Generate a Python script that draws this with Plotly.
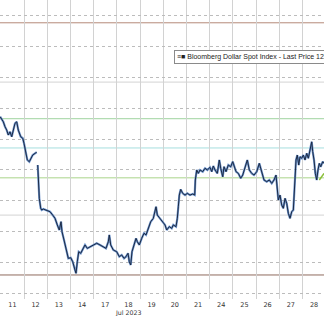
import plotly.graph_objects as go

# ---- data ----
# x = trading-day index (0 = Jul 11 open), fractional within each day
day_labels = ["11", "12", "13", "14", "17", "18", "19", "20", "21", "24", "25", "26", "27", "28"]

t = [-0.03, 0.108, 0.181, 0.254, 0.323, 0.397, 0.470, 0.539, 0.612, 0.685, 0.754, 0.858, 0.944,
     1.000, 1.043, 1.086, 1.142, 1.228, 1.289, 1.375, 1.474, 1.547, None,
     1.591, 1.659, 1.720, 1.763, 1.832, 1.978, 2.121, 2.237, 2.336, 2.435, 2.522, 2.595, 2.638,
     2.724, 2.810, 2.909, 3.013, 3.099, 3.198, 3.241, 3.297, 3.358, 3.444, 3.530, 3.629, 3.728,
     3.845, 3.987, 4.134, 4.276, 4.418, 4.534, 4.634, 4.677, 4.737, 4.849, 4.996, 5.108, 5.211,
     5.310, 5.397, 5.483, 5.539, 5.599, 5.655, 5.741, 5.828, 5.884, 5.970, 6.073, 6.172, 6.259,
     6.358, 6.461, 6.573, 6.647, 6.690, 6.746, 6.862, 6.978, 7.078, 7.151, 7.263, 7.366, 7.435,
     7.552, 7.608, 7.651, 7.694, 7.754, 7.841, 7.940, 8.039, 8.155, 8.272, 8.358, 8.384, 8.444,
     8.513, 8.586, 8.703, 8.802, 8.901, 9.017, 9.091, 9.159, 9.233, 9.332, 9.418, 9.478, 9.565,
     9.621, 9.707, 9.806, 9.909, 9.996, 10.052, 10.138, 10.237, 10.341, 10.427, 10.526, 10.625,
     10.711, 10.815, 10.914, 11.030, 11.142, 11.246, 11.345, 11.461, 11.573, 11.677, 11.776,
     11.862, 11.918, 11.961, 12.034, 12.108, 12.177, 12.250, 12.323, 12.392, 12.466, 12.539,
     12.608, 12.638, 12.681, 12.724, 12.780, 12.840, 12.897, 12.970, 13.039, 13.112, 13.185,
     13.254, 13.328, 13.401, 13.444, 13.500, 13.556, 13.616, 13.672, 13.728, 13.788, 13.875, 13.931]

price = [1223.45, 1223.12, 1222.80, 1222.58, 1222.26, 1222.47, 1222.15, 1222.58, 1223.02, 1223.12,
         1222.58, 1222.15, 1222.05, 1221.72, 1221.40, 1221.07, 1220.64, 1220.53, 1220.75, 1220.96,
         1221.07, 1221.14, None,
         1220.31, 1218.15, 1217.50, 1217.39, 1217.45, 1217.39, 1217.28, 1217.06, 1216.85, 1216.42,
         1216.09, 1216.63, 1215.98, 1215.44, 1214.90, 1214.25, 1214.29, 1214.03, 1213.49, 1213.28,
         1214.03, 1214.68, 1214.58, 1214.79, 1215.12, 1214.90, 1215.01, 1215.12, 1215.23, 1215.12,
         1215.01, 1214.90, 1215.33, 1215.77, 1215.12, 1214.79, 1214.68, 1214.36, 1214.47, 1214.25,
         1214.36, 1214.58, 1214.03, 1213.82, 1214.68, 1215.12, 1215.55, 1215.33, 1215.12, 1215.55,
         1215.88, 1215.77, 1216.20, 1216.63, 1216.85, 1217.28, 1217.60, 1217.06, 1216.85, 1216.63,
         1216.42, 1216.09, 1216.31, 1216.20, 1216.42, 1216.31, 1216.85, 1217.60, 1218.36, 1218.73,
         1218.47, 1218.36, 1218.47, 1218.36, 1218.43, 1218.36, 1219.34, 1219.99, 1219.77, 1219.99,
         1219.88, 1220.10, 1219.99, 1220.16, 1219.88, 1220.25, 1219.99, 1219.77, 1220.64, 1220.10,
         1219.55, 1220.20, 1219.88, 1220.31, 1220.20, 1220.53, 1220.20, 1219.88, 1219.77, 1219.45,
         1219.66, 1220.10, 1220.64, 1219.99, 1219.77, 1219.66, 1219.88, 1220.42, 1219.88, 1219.34,
         1219.23, 1219.34, 1219.12, 1219.34, 1219.66, 1218.80, 1218.04, 1218.36, 1217.71, 1217.50,
         1218.15, 1217.82, 1217.18, 1216.85, 1217.28, 1217.39, 1218.47, 1219.77, 1220.64, 1220.96,
         1220.31, 1220.85, 1220.75, 1220.96, 1220.64, 1221.07, 1220.75, 1221.29, 1221.82, 1221.18,
         1220.64, 1219.77, 1219.34, 1219.99, 1220.42, 1220.20, 1220.53, 1220.42]

green_t = [13.728, 13.931]
green_v = [1219.34, 1219.77]

ref_levels = [1229.55, 1223.32, 1221.42, 1219.48, 1213.17]
ref_colors = ["#b58a7a", "#9fd39f", "#a6dede", "#a9d48a", "#8f6a5e"]
light_levels = [1225.70, 1217.06]
grid_levels = [1212, 1214, 1216, 1218, 1220, 1222, 1224, 1226, 1228, 1230]
legend_text = "Bloomberg Dollar Spot Index - Last Price 1220.42"

n_days = len(day_labels)

fig = go.Figure()
fig.add_trace(go.Scatter(x=t, y=price, mode="lines", line=dict(color="#6f95cc", width=2.2),
                         connectgaps=False, hoverinfo="skip", showlegend=False))
fig.add_trace(go.Scatter(x=t, y=price, mode="lines", line=dict(color="#1c2a44", width=1.0),
                         connectgaps=False, showlegend=False))
fig.add_trace(go.Scatter(x=green_t, y=green_v, mode="lines", line=dict(color="#8cbf3a", width=1.5),
                         showlegend=False))

for lv, c in zip(ref_levels, ref_colors):
    fig.add_shape(type="line", xref="paper", x0=0, x1=1, yref="y", y0=lv, y1=lv,
                  line=dict(color=c, width=1), layer="below")
for lv in light_levels:
    fig.add_shape(type="line", xref="paper", x0=0, x1=1, yref="y", y0=lv, y1=lv,
                  line=dict(color="#dcdcdc", width=1.2), layer="below")

fig.add_annotation(xref="paper", yref="y", x=174 / 324, y=1227.3, xanchor="left", yanchor="middle",
                   text="≡■ " + legend_text, showarrow=False, align="left",
                   font=dict(family="Liberation Sans", size=7.0, color="#222"),
                   bgcolor="white", bordercolor="#8a8a8a", borderwidth=1, borderpad=2)

fig.add_annotation(xref="x", yref="paper", x=5.5, y=0, yshift=-14, text="Jul 2023", showarrow=False,
                   xanchor="center", yanchor="middle", font=dict(family="DejaVu Sans", size=6.3, color="#333"))

fig.update_layout(
    width=324, height=316, margin=dict(l=0, r=0, t=0, b=17),
    paper_bgcolor="white", plot_bgcolor="white",
    xaxis=dict(range=[-0.035, 13.93], tickvals=[i + 0.5 for i in range(n_days)], ticktext=day_labels,
               showgrid=False, zeroline=False, showline=False, ticks="",
               tickfont=dict(family="DejaVu Sans", size=6.5, color="#333"),
               minor=dict(tickvals=list(range(1, n_days)), showgrid=True, gridcolor="#d2d2d2",
                          gridwidth=1, griddash="solid")),
    yaxis=dict(range=[1211.61, 1231.03], tickvals=grid_levels, showticklabels=False,
               showgrid=True, gridcolor="#bcbcbc", gridwidth=1, griddash="dot", zeroline=False,
               showline=False),
)

fig.write_html("out.html")
